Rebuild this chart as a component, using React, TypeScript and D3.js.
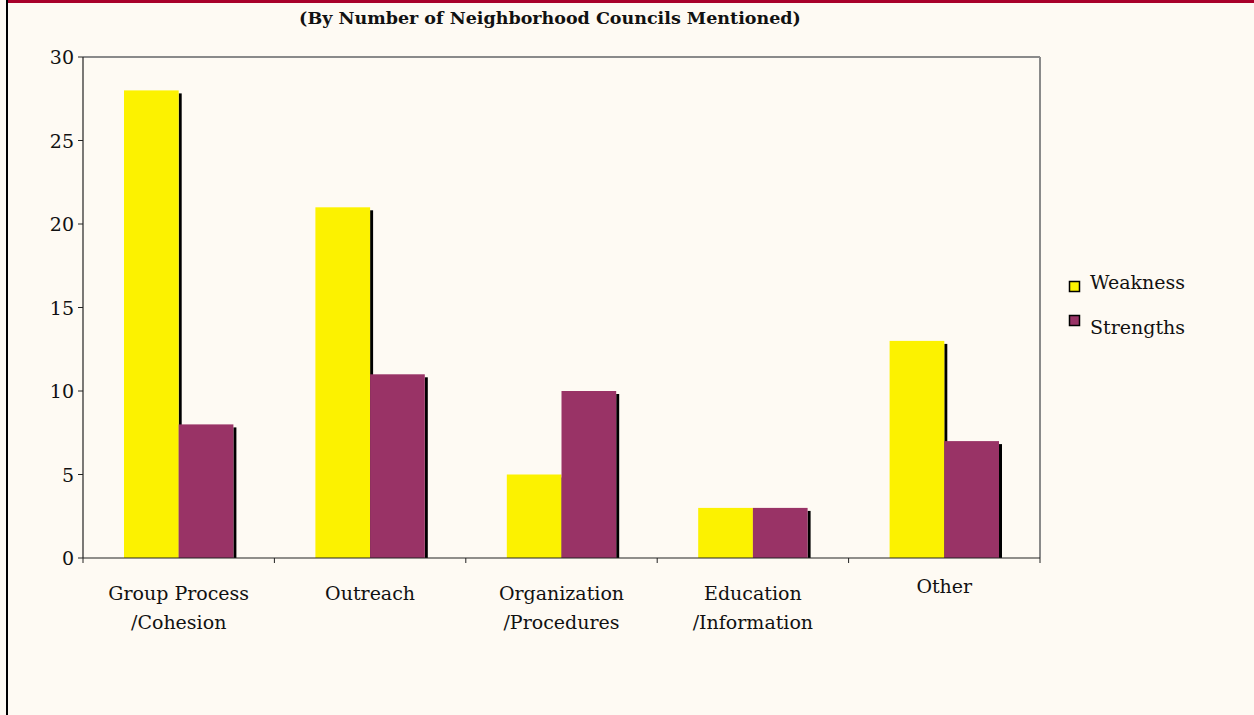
import React from "react";
import * as d3 from "d3";

const categories = [
  ["Group Process", "/Cohesion"],
  ["Outreach"],
  ["Organization", "/Procedures"],
  ["Education", "/Information"],
  ["Other"],
];
const seriesNames = ["Weakness", "Strengths"];
const weakness = [28, 21, 5, 3, 13];
const strengths = [8, 11, 10, 3, 7];
const yTicks = [0, 5, 10, 15, 20, 25, 30];
const title = "(By Number of Neighborhood Councils Mentioned)";

const W = 1254;
const H = 715;
const colors = ["#fcf200", "#993366"];
const FONT = "'Palatino Linotype', 'Book Antiqua', Palatino, 'DejaVu Serif', serif";

export default function App() {
  const left = 83, right = 1040, top = 57, bottom = 558;
  const x = d3.scaleBand<number>().domain(d3.range(categories.length)).range([left, right]).paddingInner(0).paddingOuter(0);
  const y = d3.scaleLinear().domain([0, 30]).range([bottom, top]);
  const bw = x.bandwidth();
  const pad = 41;
  const barW = (bw - 2 * pad) / 2;
  const series = [weakness, strengths];

  return (
    <div style={{ position: "absolute", left: 0, top: 0, margin: 0 }}>
      <svg width={W} height={H} style={{ display: "block", background: "#fefaf3" }} fontFamily={FONT}>
        <rect x={0} y={0} width={W} height={H} fill="#fefaf3" />
        <rect x={6} y={0} width={2} height={H} fill="#000" />
        <rect x={8} y={0} width={W - 8} height={3} fill="#a8002a" />
        <text x={550} y={24} textAnchor="middle" fontSize={17.5} fontWeight="bold" fill="#111">{title}</text>

        {/* plot frame */}
        <line x1={left} y1={top} x2={right} y2={top} stroke="#8a8a8a" strokeWidth={2} />
        <line x1={right} y1={top} x2={right} y2={bottom} stroke="#8a8a8a" strokeWidth={2} />

        {/* bar shadows */}
        {series.map((vals, s) =>
          vals.map((v, i) => {
            const bx = (x(i) as number) + pad + s * barW;
            return <rect key={`sh${s}-${i}`} x={bx + barW} y={y(v) + 3} width={3} height={bottom - y(v) - 3} fill="#000" />;
          })
        )}
        {/* bars */}
        {series.map((vals, s) =>
          vals.map((v, i) => {
            const bx = (x(i) as number) + pad + s * barW;
            return <rect key={`b${s}-${i}`} x={bx} y={y(v)} width={barW} height={bottom - y(v)} fill={colors[s]} />;
          })
        )}

        {/* y axis */}
        <line x1={left} y1={top} x2={left} y2={bottom} stroke="#222" strokeWidth={1.2} />
        {yTicks.map((t) => (
          <g key={t}>
            <line x1={left - 5} x2={left} y1={y(t)} y2={y(t)} stroke="#222" />
            <text x={left - 9} y={y(t) + 7} textAnchor="end" fontSize={19} fill="#111">{t}</text>
          </g>
        ))}

        {/* x axis */}
        <line x1={left} y1={bottom} x2={right} y2={bottom} stroke="#222" strokeWidth={1.2} />
        {d3.range(categories.length + 1).map((i) => {
          const tx = i < categories.length ? (x(i) as number) : right;
          return <line key={i} x1={tx} x2={tx} y1={bottom} y2={bottom + 5} stroke="#222" />;
        })}
        {categories.map((lines, i) => {
          const cx = (x(i) as number) + bw / 2;
          const y0 = lines.length === 1 && i === categories.length - 1 ? 593 : 600;
          return (
            <text key={i} x={cx} y={y0} textAnchor="middle" fontSize={19} fill="#111">
              {lines.map((l, k) => (
                <tspan key={k} x={cx} dy={k === 0 ? 0 : 29}>{l}</tspan>
              ))}
            </text>
          );
        })}

        {/* legend */}
        {seriesNames.map((n, k) => (
          <g key={n}>
            <rect x={1069.5} y={281.5 + k * 34} width={10} height={10} fill={colors[k]} stroke="#000" strokeWidth={1.5} />
            <text x={1090} y={289 + k * 45} fontSize={19} fill="#111">{n}</text>
          </g>
        ))}
      </svg>
    </div>
  );
}
